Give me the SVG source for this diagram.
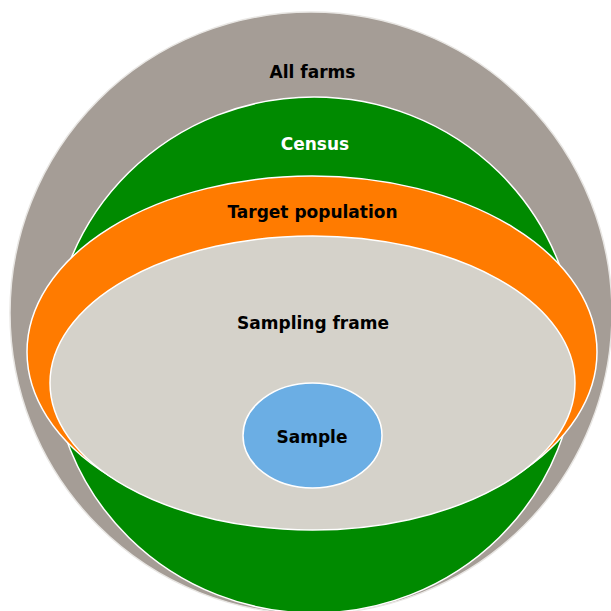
<svg xmlns="http://www.w3.org/2000/svg" width="611" height="611" viewBox="0 0 611 611">
<style>
.s{stroke:#ffffff;stroke-width:1.5}
.t{font-family:"DejaVu Sans",Verdana,sans-serif;font-weight:bold;font-size:17px;text-anchor:middle;fill:#000}
</style>
<rect width="611" height="611" fill="#ffffff"/>
<g id="all-farms">
<circle cx="311" cy="313" r="301" fill="#A59D96" stroke="#E8E6E3" stroke-width="1.5"/>
<text class="t" x="312.5" y="77.5">All farms</text>
</g>
<g id="census">
<ellipse cx="314" cy="355" rx="262" ry="258" class="s" fill="#008A00"/>
<text class="t" x="315" y="149.5" style="fill:#fff">Census</text>
</g>
<g id="target-population">
<ellipse cx="312" cy="352" rx="285" ry="176" class="s" fill="#FF7B00"/>
<text class="t" x="312.5" y="217.5">Target population</text>
</g>
<g id="sampling-frame">
<ellipse cx="312.5" cy="383" rx="262.5" ry="147" class="s" fill="#D5D2CA"/>
<text class="t" x="313" y="329">Sampling frame</text>
</g>
<g id="sample">
<ellipse cx="312.5" cy="435.5" rx="69.5" ry="52.5" class="s" fill="#6BAEE4"/>
<text class="t" x="312" y="442.5">Sample</text>
</g>
<g id="connectors"/>
</svg>
